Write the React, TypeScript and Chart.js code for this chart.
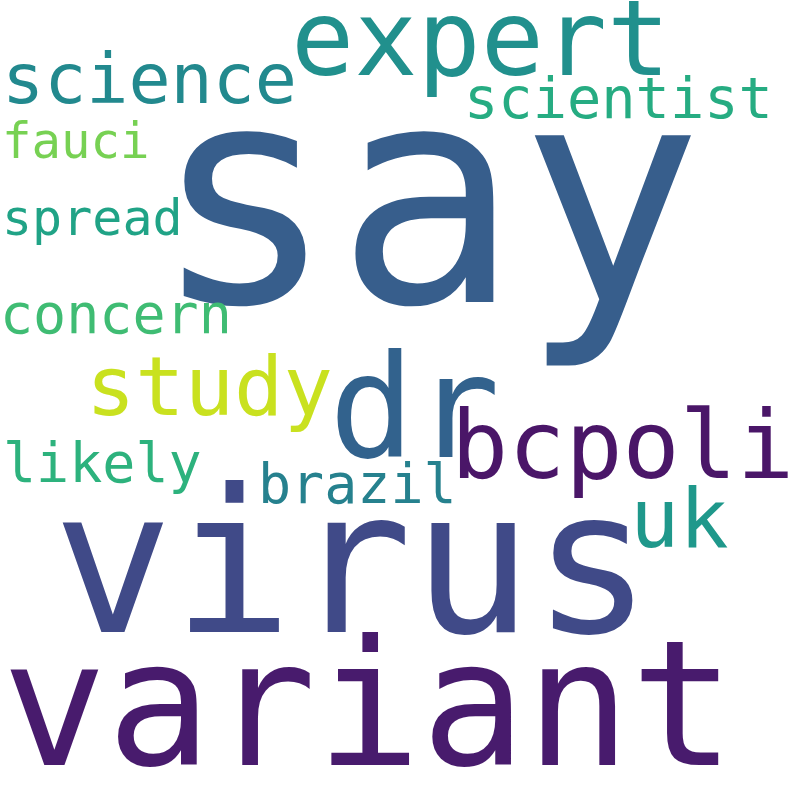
import Chart, { Plugin } from 'chart.js/auto';
import { useEffect, useRef } from 'react';

// word cloud: word, font size (weight), anchor (left / baseline) in a 0-800 space
const words = ['say', 'virus', 'variant', 'expert', 'dr', 'bcpoli', 'science', 'scientist', 'study', 'uk', 'concern', 'likely', 'brazil', 'spread', 'fauci'];
const weights = [305, 199, 174, 105, 142, 95, 70, 57, 82, 82, 55, 55, 55, 50, 49];
const xs = [152, 53, 2, 291, 329, 451, 2, 464, 86, 630, 0, 3, 258, 2, 2];
const ys = [302, 632, 765, 75, 457, 478, 103, 118, 415, 547, 333, 482, 503, 235, 158];

const palette = ['#375e8c', '#404a88', '#481b6d', '#21908d', '#32628d', '#4a1668', '#22898e', '#26ac82', '#c9e11f', '#1f988b', '#3fbc73', '#2db27d', '#26818e', '#20a386', '#77d153'];

const wordPlugin: Plugin<'scatter'> = {
  id: 'words',
  afterDatasetsDraw(chart) {
    const { ctx, scales } = chart;
    ctx.save();
    ctx.textAlign = 'left';
    ctx.textBaseline = 'alphabetic';
    words.forEach((w, i) => {
      ctx.font = `${weights[i]}px "DejaVu Sans Mono"`;
      ctx.fillStyle = palette[i];
      ctx.fillText(w, scales.x.getPixelForValue(xs[i]), scales.y.getPixelForValue(ys[i]));
    });
    ctx.restore();
  },
};

const WordCloud = () => {
  const chartRef = useRef<HTMLCanvasElement | null>(null);

  useEffect(() => {
    document.body.style.margin = '0';
    if (!chartRef.current) return;
    const ctx = chartRef.current.getContext('2d');
    if (!ctx) return;

    const chartInstance = new Chart(ctx, {
      type: 'scatter',
      data: {
        datasets: [
          {
            data: words.map((_, i) => ({ x: xs[i], y: ys[i] })),
            pointRadius: 0,
          },
        ],
      },
      options: {
        responsive: false,
        animation: false,
        layout: { padding: 0 },
        scales: {
          x: { type: 'linear', min: 0, max: 800, display: false },
          y: { type: 'linear', min: 0, max: 800, reverse: true, display: false },
        },
        plugins: {
          legend: { display: false },
          tooltip: { enabled: false },
        },
      },
      plugins: [wordPlugin],
    });

    return () => {
      chartInstance.destroy();
    };
  }, []);

  return <canvas ref={chartRef} width={800} height={800} style={{ background: '#fff' }}></canvas>;
};

export default function App() {
  return <WordCloud />;
}
